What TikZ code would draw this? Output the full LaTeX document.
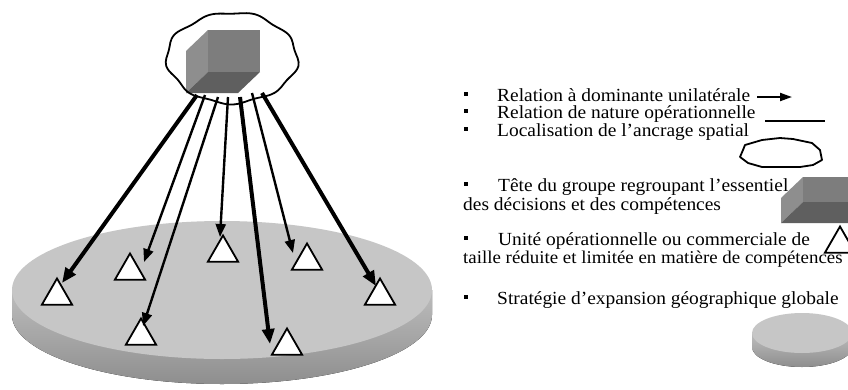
\documentclass[tikz,border=0pt]{standalone}
\usepackage{fontspec}
\setmainfont{Liberation Serif}[FakeStretch=1.05]
\usetikzlibrary{arrows.meta,shapes.geometric,calc}
\definecolor{faceFront}{HTML}{7D7D7D}
\definecolor{faceSide}{HTML}{8E8E8E}
\definecolor{faceLow}{HTML}{5F5F5F}
\definecolor{discTop}{HTML}{C6C6C6}
\definecolor{discRimA}{HTML}{BDBDBD}
\definecolor{discRimB}{HTML}{8E8E8E}
\begin{document}
\begin{tikzpicture}[x=1pt,y=-1pt,
  unit/.style={draw=black,fill=white,line width=1.8pt,regular polygon,
    regular polygon sides=3,minimum size=35pt,inner sep=0pt,outer sep=0pt},
  link/.style={line width=2.4pt,-{Triangle[length=13pt,width=10pt]}},
  strong/.style={line width=4pt,-{Triangle[length=15pt,width=12pt]}},
  item/.style={anchor=base west,inner sep=0pt,text height=12pt,text depth=3pt,
    font=\fontsize{18.5}{18.5}\selectfont},
  bullet/.style={fill=black,minimum size=4.5pt,inner sep=0pt,outer sep=0pt},
  rim/.style={top color=discRimA,bottom color=discRimB},
  outline/.style={line width=1.8pt,line join=round}
]
\useasboundingbox (0,0) rectangle (848,389);
\clip (0,0) rectangle (848,389);
\fill[white] (0,0) rectangle (848,389);

% ---- the platform (global geographic expansion) ----
\fill[rim] (12,290) -- (12,315) arc[start angle=180,end angle=0,x radius=210,y radius=69]
  -- (432,290) -- cycle;
\fill[discTop] (222,290) ellipse[x radius=210,y radius=69];

% ---- the head unit: cube inside its spatial anchor ----
\fill[faceSide] (208,30) -- (186,51) -- (186,93) -- (208,72) -- cycle;
\fill[faceLow] (208,72) -- (260,72) -- (238,93) -- (186,93) -- cycle;
\fill[faceFront] (208,30) rectangle (260,72);
\draw[outline] plot[domain=0:355,samples=72,smooth cycle]
  ({232+65*(1+0.025*sin(9*\x)+0.012*sin(4*\x+50))*cos(\x)},
   {58+45*(1+0.025*sin(9*\x)+0.012*sin(4*\x+50))*sin(\x)});

% ---- operational units ----
\node[unit] (t1) at (57,296) {};
\node[unit] (t2) at (130,271) {};
\node[unit] (t3) at (223,253) {};
\node[unit] (t4) at (307,261) {};
\node[unit] (t5) at (141,336) {};
\node[unit] (t6) at (287,346) {};
\node[unit] (t7) at (380,296) {};

% ---- relations from the head to the units ----
\coordinate (s1) at (197,95);  \coordinate (e1) at (62,283);
\coordinate (s2) at (205,95);  \coordinate (e2) at (144,262);
\coordinate (s3) at (218,97);  \coordinate (e3) at (143,326);
\coordinate (s4) at (228,97);  \coordinate (e4) at (220,237);
\coordinate (s5) at (240,97);  \coordinate (e5) at (270,344);
\coordinate (s6) at (252,93);  \coordinate (e6) at (293,253);
\coordinate (s7) at (262,93);  \coordinate (e7) at (376,286);
\draw[strong] (s1) -- (e1);
\draw[link] (s2) -- (e2);
\draw[link] (s3) -- (e3);
\draw[link] (s4) -- (e4);
\draw[strong] (s5) -- (e5);
\draw[link] (s6) -- (e6);
\draw[strong] (s7) -- (e7);

% ---- legend ----
\node[bullet] (b1) at (466,94) {};
\node[item] (l1) at (497,101) {Relation à dominante unilatérale};
\node[bullet] (b2) at (466,111) {};
\node[item] (l2) at (497,118.5) {Relation de nature opérationnelle};
\node[bullet] (b3) at (466,129) {};
\node[item] (l3) at (497,136.5) {Localisation de l'ancrage spatial};
\node[bullet] (b4) at (466,184) {};
\node[item] (l4) at (498,191) {Tête du groupe regroupant l'essentiel};
\node[item] (l5) at (463,210) {des décisions et des compétences};
\node[bullet] (b6) at (466,238) {};
\node[item] (l6) at (498,245) {Unité opérationnelle ou commerciale de};
\node[item,font=\fontsize{18}{18}\selectfont] (l7) at (463,263)
  {taille réduite et limitée en matière de compétences};
\node[bullet] (b8) at (466,297) {};
\node[item] (l8) at (497,304) {Stratégie d'expansion géographique globale};

% legend symbols
\coordinate (a1) at (757,97); \coordinate (a2) at (792,97);
\draw[line width=2pt,-{Triangle[length=12pt,width=8pt]}] (a1) -- (a2);
\coordinate (p1) at (765,121); \coordinate (p2) at (825,121);
\draw[line width=1.8pt] (p1) -- (p2);
\draw[outline] (745,145) -- (762,140) -- (780,138) -- (793,139) -- (812,143) -- (820,150)
  -- (822,160) -- (813,165) -- (800,167) -- (780,167) -- (762,167) -- (748,163)
  -- (740,157) -- (743,150) -- cycle;
\fill[faceSide] (803,177) -- (781,198) -- (781,223) -- (803,202) -- cycle;
\fill[faceLow] (803,202) -- (870,202) -- (848,223) -- (781,223) -- cycle;
\fill[faceFront] (803,177) rectangle (870,202);
\node[unit] (tl) at (840,244) {};
\fill[rim] (752,333) -- (752,347) arc[start angle=180,end angle=0,x radius=50,y radius=20]
  -- (852,333) -- cycle;
\fill[discTop] (802,333) ellipse[x radius=50,y radius=20];
\end{tikzpicture}
\end{document}
